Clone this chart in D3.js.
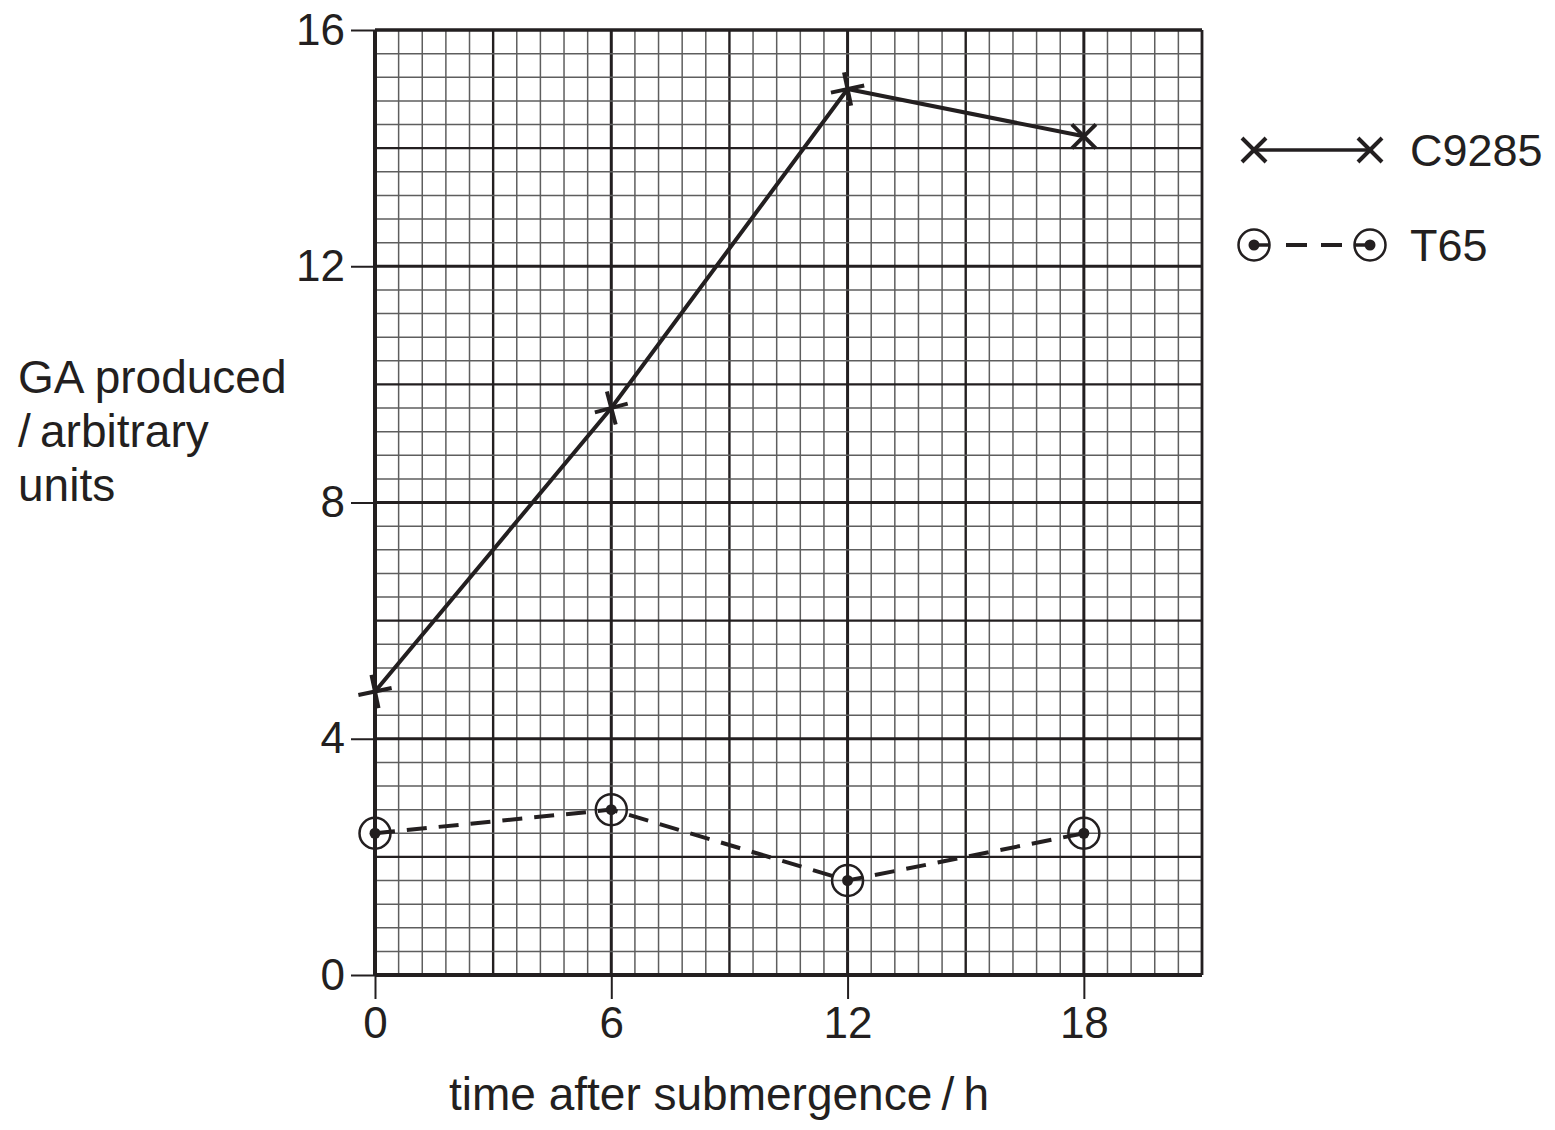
<!DOCTYPE html>
<html>
<head>
<meta charset="utf-8">
<script src="https://cdn.jsdelivr.net/npm/d3@7/dist/d3.min.js"></script>
<style>
  html, body { margin: 0; padding: 0; background: #fff; }
  svg text { font-family: "Liberation Sans", Arial, Helvetica, sans-serif; fill: #231f20; }
</style>
</head>
<body>
<script>
// ---- data ----
const times = [0, 6, 12, 18];
const c9285 = [4.8, 9.6, 15.0, 14.2];
const t65 = [2.4, 2.8, 1.6, 2.4];
const xTicks = [0, 6, 12, 18];
const yTicks = [0, 4, 8, 12, 16];
const seriesNames = ["C9285", "T65"];
const xTitle = "time after submergence\u2009/\u2009h";
const yTitleLines = ["GA produced", "/\u2009arbitrary", "units"];

// ---- layout ----
const W = 1555, H = 1130;
const ink = "#231f20";
const svg = d3.select("body").append("svg").attr("width", W).attr("height", H);

const x = d3.scaleLinear().domain([0, 21]).range([375, 1202]);
const y = d3.scaleLinear().domain([0, 16]).range([975, 30]);

// grid
const g = svg.append("g");
const xMinor = d3.range(0, 21.0001, 0.6);
const yMinor = d3.range(0, 16.0001, 0.4);
const near = (v, m) => Math.abs(v / m - Math.round(v / m)) < 1e-6;

xMinor.forEach(v => {
  let w = 1.5, c = "#5e5e5e";
  if (near(v, 6)) { w = 3; c = ink; } else if (near(v, 3)) { w = 2.4; c = ink; }
  g.append("line").attr("x1", x(v)).attr("x2", x(v)).attr("y1", y(0)).attr("y2", y(16))
    .attr("stroke", c).attr("stroke-width", w);
});
yMinor.forEach(v => {
  let w = 1.5, c = "#5e5e5e";
  if (near(v, 4)) { w = 3; c = ink; } else if (near(v, 2)) { w = 2.4; c = ink; }
  g.append("line").attr("y1", y(v)).attr("y2", y(v)).attr("x1", x(0)).attr("x2", x(21))
    .attr("stroke", c).attr("stroke-width", w);
});
// frame
g.append("line").attr("x1", x(0)).attr("x2", x(21)).attr("y1", y(16)).attr("y2", y(16)).attr("stroke", ink).attr("stroke-width", 3);
g.append("line").attr("x1", x(21)).attr("x2", x(21)).attr("y1", y(0)).attr("y2", y(16)).attr("stroke", ink).attr("stroke-width", 2.5);

// axes
const xAxis = d3.axisBottom(x).tickValues(xTicks).tickSize(24).tickPadding(8).tickFormat(d3.format("d"));
const yAxis = d3.axisLeft(y).tickValues(yTicks).tickSize(24).tickPadding(6).tickFormat(d3.format("d"));
const gx = svg.append("g").attr("transform", `translate(0,${y(0)})`).call(xAxis);
const gy = svg.append("g").attr("transform", `translate(${x(0)},0)`).call(yAxis);
[gx, gy].forEach(a => {
  a.select(".domain").attr("stroke", ink).attr("stroke-width", 4);
  a.selectAll(".tick line").attr("stroke", ink).attr("stroke-width", 2);
  a.selectAll(".tick text").style("font-size", "44px").attr("fill", ink);
});
gx.select(".domain").attr("d", `M${x(0)},0H${x(21)}`);
gy.select(".domain").attr("d", `M0,${y(0)}V${y(16)}`);
gx.selectAll(".tick text").attr("dy", "0.71em");

// axis titles
svg.append("text").attr("x", (453 + 985) / 2).attr("y", 1110).attr("text-anchor", "middle")
  .style("font-size", "46px").text(xTitle);
const yt = svg.append("text").attr("x", 18).attr("y", 393).style("font-size", "46px");
yTitleLines.forEach((t, i) => {
  yt.append("tspan").attr("x", 18).attr("y", 393 + i * 54).text(t);
});

// ---- series ----
const data1 = times.map((t, i) => ({ t, v: c9285[i] }));
const data2 = times.map((t, i) => ({ t, v: t65[i] }));
const line = d3.line().x(d => x(d.t)).y(d => y(d.v));

svg.append("path").datum(data1).attr("d", line).attr("fill", "none")
  .attr("stroke", ink).attr("stroke-width", 4);
svg.append("path").datum(data2).attr("d", line).attr("fill", "none")
  .attr("stroke", ink).attr("stroke-width", 4).attr("stroke-dasharray", "20,12");

function cross(sel, cx, cy, ang, len) {
  const gg = sel.append("g").attr("transform", `translate(${cx},${cy}) rotate(${ang})`);
  gg.append("line").attr("x1", -len).attr("x2", len).attr("y1", 0).attr("y2", 0)
    .attr("stroke", ink).attr("stroke-width", 4);
  gg.append("line").attr("y1", -len).attr("y2", len).attr("x1", 0).attr("x2", 0)
    .attr("stroke", ink).attr("stroke-width", 4);
}
function ring(sel, cx, cy) {
  sel.append("circle").attr("cx", cx).attr("cy", cy).attr("r", 15.5)
    .attr("fill", "none").attr("stroke", ink).attr("stroke-width", 2.5);
  sel.append("circle").attr("cx", cx).attr("cy", cy).attr("r", 5.5).attr("fill", ink);
}
const markerAngles = [-12, -15, -12, 45];
data1.forEach((d, i) => cross(svg, x(d.t), y(d.v), markerAngles[i], 17));
data2.forEach(d => ring(svg, x(d.t), y(d.v)));

// ---- legend ----
const lg = svg.append("g");
lg.append("line").attr("x1", 1254).attr("x2", 1370).attr("y1", 150).attr("y2", 150)
  .attr("stroke", ink).attr("stroke-width", 3.5);
cross(lg, 1254, 150, 45, 17);
cross(lg, 1370, 150, 45, 17);
lg.append("text").attr("x", 1410).attr("y", 166).style("font-size", "45px").text(seriesNames[0]);

ring(lg, 1254, 245);
ring(lg, 1370, 245);
lg.append("line").attr("x1", 1254).attr("x2", 1270).attr("y1", 245).attr("y2", 245).attr("stroke", ink).attr("stroke-width", 3.5);
lg.append("line").attr("x1", 1354).attr("x2", 1370).attr("y1", 245).attr("y2", 245).attr("stroke", ink).attr("stroke-width", 3.5);
lg.append("line").attr("x1", 1286).attr("x2", 1342).attr("y1", 245).attr("y2", 245)
  .attr("stroke", ink).attr("stroke-width", 4).attr("stroke-dasharray", "21,14");
lg.append("text").attr("x", 1410).attr("y", 261).style("font-size", "45px").text(seriesNames[1]);
</script>
</body>
</html>
